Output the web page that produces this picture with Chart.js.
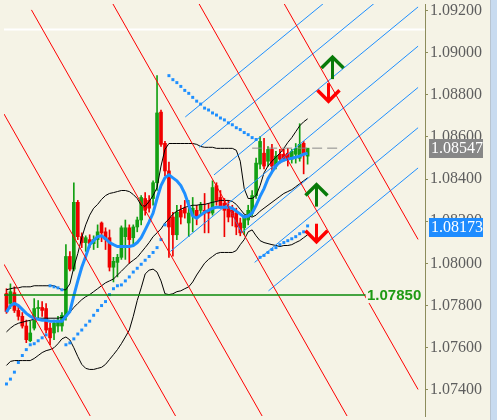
<!DOCTYPE html>
<html><head><meta charset="utf-8">
<script src="https://cdn.jsdelivr.net/npm/chart.js@4/dist/chart.umd.min.js"></script>
<style>html,body{margin:0;padding:0;background:#f5f3e6;}#wrap{width:497px;height:420px;}</style>
</head><body><div id="wrap"><canvas id="c" width="497" height="420"></canvas></div>
<script>
// ---- data ----
const open  = [1.07857,1.07810,1.07861,1.07777,1.07749,1.07703,1.07633,1.07693,1.07786,1.07791,1.07786,1.07693,1.07670,1.07703,1.07703,1.07749,1.08033,1.07973,1.08290,1.08127,1.08099,1.08113,1.08094,1.08113,1.08192,1.08150,1.08122,1.07982,1.08005,1.08029,1.08127,1.08169,1.08122,1.08173,1.08206,1.08308,1.08299,1.08308,1.08383,1.08718,1.08570,1.08439,1.08220,1.08136,1.08252,1.08262,1.08192,1.08229,1.08252,1.08252,1.08252,1.08252,1.08239,1.08369,1.08313,1.08285,1.08266,1.08252,1.08239,1.08192,1.08169,1.08206,1.08239,1.08322,1.08471,1.08523,1.08485,1.08541,1.08462,1.08518,1.08518,1.08523,1.08495,1.08518,1.08499,1.08570,1.08509];
const high  = [1.07880,1.07903,1.07889,1.07796,1.07767,1.07731,1.07726,1.07833,1.07824,1.07819,1.07810,1.07717,1.07731,1.07749,1.07767,1.08089,1.08056,1.08383,1.08299,1.08145,1.08131,1.08136,1.08131,1.08183,1.08197,1.08169,1.08159,1.08029,1.08043,1.08178,1.08206,1.08183,1.08183,1.08220,1.08322,1.08336,1.08322,1.08392,1.08891,1.08728,1.08579,1.08481,1.08243,1.08276,1.08276,1.08299,1.08299,1.08313,1.08276,1.08290,1.08332,1.08285,1.08392,1.08383,1.08346,1.08308,1.08299,1.08276,1.08262,1.08215,1.08229,1.08276,1.08346,1.08500,1.08602,1.08593,1.08555,1.08565,1.08532,1.08541,1.08541,1.08546,1.08541,1.08569,1.08663,1.08579,1.08541];
const low   = [1.07763,1.07786,1.07767,1.07731,1.07693,1.07624,1.07628,1.07684,1.07740,1.07749,1.07670,1.07614,1.07638,1.07675,1.07679,1.07731,1.07964,1.07964,1.08113,1.08075,1.08057,1.08075,1.08066,1.08075,1.08103,1.08066,1.07964,1.07912,1.07936,1.08019,1.08019,1.08001,1.08089,1.08150,1.08183,1.08229,1.08243,1.08276,1.08346,1.08555,1.08416,1.08029,1.08034,1.08113,1.08187,1.08215,1.08127,1.08150,1.08183,1.08229,1.08145,1.08145,1.08229,1.08276,1.08262,1.08127,1.08197,1.08178,1.08136,1.08131,1.08136,1.08183,1.08225,1.08308,1.08448,1.08448,1.08462,1.08439,1.08448,1.08476,1.08485,1.08462,1.08476,1.08476,1.08485,1.08425,1.08471];
const close = [1.07772,1.07866,1.07777,1.07749,1.07703,1.07638,1.07670,1.07786,1.07791,1.07777,1.07684,1.07647,1.07717,1.07731,1.07754,1.08033,1.07973,1.08290,1.08127,1.08099,1.08122,1.08094,1.08113,1.08150,1.08145,1.08113,1.07982,1.08010,1.08029,1.08169,1.08169,1.08113,1.08173,1.08206,1.08313,1.08252,1.08262,1.08383,1.08714,1.08565,1.08439,1.08173,1.08136,1.08243,1.08220,1.08239,1.08239,1.08262,1.08215,1.08276,1.08239,1.08239,1.08360,1.08299,1.08266,1.08252,1.08220,1.08220,1.08173,1.08145,1.08220,1.08252,1.08322,1.08476,1.08579,1.08462,1.08541,1.08462,1.08509,1.08495,1.08495,1.08495,1.08532,1.08546,1.08565,1.08518,1.08547];
const bbUpper = [1.07875,1.07880,1.07884,1.07884,1.07889,1.07889,1.07889,1.07894,1.07894,1.07894,1.07894,1.07894,1.07894,1.07884,1.07875,1.07875,1.07903,1.07982,1.08047,1.08122,1.08183,1.08229,1.08262,1.08280,1.08304,1.08322,1.08332,1.08336,1.08341,1.08346,1.08346,1.08341,1.08327,1.08308,1.08276,1.08271,1.08294,1.08322,1.08360,1.08462,1.08541,1.08569,1.08569,1.08569,1.08569,1.08569,1.08569,1.08569,1.08565,1.08555,1.08551,1.08551,1.08551,1.08546,1.08546,1.08546,1.08546,1.08546,1.08537,1.08485,1.08355,1.08308,1.08308,1.08322,1.08369,1.08430,1.08462,1.08485,1.08504,1.08523,1.08546,1.08574,1.08597,1.08625,1.08653,1.08672,1.08686];
const bbMiddle = [1.07675,1.07693,1.07707,1.07716,1.07721,1.07726,1.07730,1.07735,1.07740,1.07740,1.07740,1.07740,1.07740,1.07740,1.07744,1.07749,1.07768,1.07791,1.07810,1.07828,1.07842,1.07852,1.07866,1.07880,1.07894,1.07908,1.07917,1.07926,1.07945,1.07963,1.07982,1.08001,1.08015,1.08029,1.08052,1.08075,1.08099,1.08127,1.08145,1.08164,1.08192,1.08211,1.08234,1.08248,1.08257,1.08266,1.08271,1.08276,1.08276,1.08280,1.08280,1.08285,1.08290,1.08294,1.08299,1.08299,1.08299,1.08294,1.08280,1.08257,1.08234,1.08225,1.08220,1.08229,1.08248,1.08262,1.08276,1.08290,1.08304,1.08318,1.08332,1.08341,1.08350,1.08364,1.08378,1.08392,1.08406];
const bbLower = [1.07516,1.07535,1.07539,1.07539,1.07539,1.07539,1.07539,1.07549,1.07563,1.07577,1.07586,1.07591,1.07600,1.07619,1.07642,1.07651,1.07637,1.07600,1.07558,1.07521,1.07502,1.07497,1.07497,1.07502,1.07507,1.07521,1.07544,1.07567,1.07591,1.07619,1.07651,1.07684,1.07749,1.07824,1.07884,1.07950,1.07968,1.07973,1.07959,1.07917,1.07856,1.07852,1.07856,1.07866,1.07870,1.07880,1.07889,1.07912,1.07945,1.07973,1.08001,1.08019,1.08033,1.08047,1.08052,1.08052,1.08052,1.08052,1.08061,1.08089,1.08113,1.08150,1.08159,1.08131,1.08108,1.08099,1.08094,1.08089,1.08085,1.08080,1.08085,1.08085,1.08089,1.08099,1.08108,1.08122,1.08136];
const maLine = [1.07768,1.07800,1.07810,1.07800,1.07782,1.07763,1.07749,1.07740,1.07735,1.07730,1.07730,1.07726,1.07726,1.07726,1.07726,1.07749,1.07772,1.07847,1.07917,1.07982,1.08033,1.08089,1.08108,1.08127,1.08131,1.08117,1.08099,1.08089,1.08080,1.08080,1.08080,1.08080,1.08085,1.08099,1.08122,1.08159,1.08197,1.08239,1.08308,1.08369,1.08406,1.08420,1.08406,1.08392,1.08369,1.08332,1.08276,1.08225,1.08215,1.08229,1.08243,1.08252,1.08262,1.08266,1.08266,1.08266,1.08266,1.08262,1.08248,1.08234,1.08220,1.08225,1.08239,1.08276,1.08318,1.08355,1.08402,1.08434,1.08462,1.08481,1.08490,1.08495,1.08499,1.08504,1.08509,1.08518,1.08523];
const sar = [1.07428,1.07451,1.07484,1.07530,1.07563,1.07591,1.07614,1.07619,1.07633,1.07647,1.07661,1.07894,1.07889,1.07884,1.07875,1.07614,1.07623,1.07642,1.07665,1.07684,1.07707,1.07726,1.07754,1.07777,1.07800,1.07819,1.07852,1.07880,1.07894,1.07898,1.07917,1.07936,1.07959,1.07977,1.07996,1.08015,1.08033,1.08052,1.08075,1.08113,1.08183,1.08891,1.08872,1.08858,1.08840,1.08821,1.08807,1.08788,1.08770,1.08756,1.08737,1.08728,1.08714,1.08704,1.08690,1.08681,1.08667,1.08658,1.08644,1.08635,1.08621,1.08611,1.08597,1.08588,1.08029,1.08038,1.08052,1.08066,1.08075,1.08089,1.08099,1.08108,1.08117,1.08127,1.08141,1.08150,1.08178];
// channel lines: [xStart, priceStart, xEnd, priceEnd] in bar-index / price units
const redLines = [[-0.625,1.07996,25,1.07148],[-0.625,1.08709,45,1.07199],[6.3,1.09203,66,1.07227],[26.875,1.09231,90,1.07142],[48.625,1.09231,103.875,1.07402],[70.125,1.09231,103.875,1.08114]];
const blueLines = [[45.125,1.08695,84.375,1.09301],[48.625,1.08551,96.875,1.09297],[52.375,1.08420,103.875,1.09217],[41.375,1.08057,103.875,1.09031],[59.375,1.08145,103.875,1.08835],[62.625,1.08005,103.875,1.08644],[66.125,1.07870,103.875,1.08453],[55.875,1.08276,59.375,1.08145]];
const levelPrice = 1.07850, levelEnd = 90.625;
const currentPrice = 1.08547, currentFrom = 62, currentTo = 84.375;
const markPrice = 1.08173;
const whiteLevel = 1.09110;
const arrowX = [82.125, 81.125, 78.125, 78.125];
const arrowY = [1.08979, 1.08770, 1.08374, 1.08103];
const arrowDir = ['up','down','up','down'];
const yTicks = [1.092,1.090,1.088,1.086,1.084,1.082,1.080,1.078,1.076,1.074];
const yMin = 1.07276, yMax = 1.09231;

// ---- build ----
const idx = open.map((_, i) => i);
const upC = '#13a013', dnC = '#f00000';
const cColors = idx.map(i => close[i] >= open[i] ? upC : dnC);
const pts = arr => idx.map(i => ({x: i, y: arr[i]}));
const seg = l => [{x: l[0], y: l[1]}, {x: l[2], y: l[3]}];
const lineDs = (data, color, width, order, extra) => Object.assign({type: 'line', data, borderColor: color, borderWidth: width, pointRadius: 0, tension: 0, order, fill: false}, extra || {});

const overlay = {
  id: 'overlay',
  beforeDraw(chart) {
    const {ctx, width, height} = chart;
    ctx.save();
    ctx.fillStyle = '#f5f3e6'; ctx.fillRect(0, 0, width, height);
    ctx.fillStyle = '#c8dbf0'; ctx.fillRect(490, 0, width - 490, height);
    ctx.fillStyle = '#b8c4d0'; ctx.fillRect(490, 0, 1, height);
    ctx.restore();
  },
  afterDatasetsDraw(chart) {
    const {ctx, scales: {x, y}} = chart;
    ctx.save();
    ctx.lineCap = 'butt'; ctx.lineJoin = 'miter';
    arrowX.forEach((ax, k) => {
      const px = Math.round(x.getPixelForValue(ax)) + 0.5, py = y.getPixelForValue(arrowY[k]);
      const up = arrowDir[k] === 'up';
      const s = up ? 1 : -1;
      ctx.strokeStyle = up ? '#087a08' : '#ff0000';
      ctx.lineWidth = 3.5;
      ctx.beginPath();
      ctx.moveTo(px - 11, py + s * 11); ctx.lineTo(px, py); ctx.lineTo(px + 11, py + s * 11);
      ctx.stroke();
      ctx.lineWidth = 3;
      ctx.beginPath();
      ctx.moveTo(px, py + s * 1); ctx.lineTo(px, py + s * (up ? 22 : 18));
      ctx.stroke();
    });
    ctx.restore();
  },
  afterDraw(chart) {
    const {ctx, scales: {y}} = chart;
    ctx.save();
    // level label
    const ly = y.getPixelForValue(levelPrice);
    ctx.fillStyle = '#f5f3e6'; ctx.fillRect(366, ly - 8, 58, 16);
    ctx.font = 'bold 15px "Liberation Sans"';
    ctx.textBaseline = 'middle'; ctx.textAlign = 'left';
    ctx.fillStyle = '#1f9a14';
    ctx.fillText(levelPrice.toFixed(5), 367, ly + 1);
    // price boxes
    const box = (price, bg) => {
      const py = y.getPixelForValue(price);
      ctx.fillStyle = bg; ctx.fillRect(429, Math.round(py) - 9, 54, 19);
      ctx.fillStyle = '#ffffff'; ctx.font = '16px "Liberation Serif"';
      ctx.fillText(price.toFixed(5), 431, py + 1);
    };
    box(currentPrice, '#878787');
    box(markPrice, '#1e8cff');
    ctx.restore();
  }
};

const datasets = [
  {type: 'bar', data: idx.map(i => ({x: i, y: [low[i], high[i]]})), backgroundColor: cColors, barThickness: 1, grouped: false, order: 9, borderWidth: 0},
  {type: 'bar', data: idx.map(i => ({x: i, y: [open[i], close[i]]})), backgroundColor: cColors, barThickness: 3, grouped: false, minBarLength: 1, order: 8, borderWidth: 0},
  lineDs(pts(bbUpper), '#000000', 1, 7),
  lineDs(pts(bbMiddle), '#000000', 1, 7),
  lineDs(pts(bbLower), '#000000', 1, 7),
  lineDs(pts(maLine), '#1e8fff', 3, 5),
  {type: 'line', data: pts(sar), showLine: false, pointStyle: 'rect', pointRadius: 2.1, pointBackgroundColor: '#1e8fff', pointBorderWidth: 0, order: 4},
  ...redLines.map(l => lineDs(seg(l), '#ff0000', 1, 2)),
  ...blueLines.map(l => lineDs(seg(l), '#1e8fff', 1, 2)),
  lineDs(seg([-0.625, levelPrice, levelEnd, levelPrice]), '#0a8a0a', 1.5, 1),
  lineDs(seg([currentFrom, currentPrice, currentTo, currentPrice]), '#8a8a8a', 1, 3, {borderDash: [10, 5]}),
  lineDs(seg([-0.625, whiteLevel, 106, whiteLevel]), '#ffffff', 2, 20)
];

new Chart(document.getElementById('c'), {
  type: 'bar',
  data: {datasets},
  plugins: [overlay],
  options: {
    responsive: false, animation: false, devicePixelRatio: 1,
    layout: {padding: 0},
    plugins: {legend: {display: false}, tooltip: {enabled: false}},
    scales: {
      x: {type: 'linear', min: -0.625, max: 105.625, offset: false, display: false},
      y: {
        position: 'right', min: yMin, max: yMax, beginAtZero: false,
        afterBuildTicks: s => { s.ticks = yTicks.map(v => ({value: v})); },
        afterFit: s => { s.width = 72; s.paddingTop = 0; s.paddingBottom = 0; },
        ticks: {callback: v => Number(v).toFixed(5), font: {family: 'Liberation Serif', size: 16}, color: '#5e5e5e', padding: 2, autoSkip: false},
        grid: {drawOnChartArea: false, tickLength: 3, tickColor: '#8c8c5c'},
        border: {color: '#8c8c5c', width: 1}
      }
    }
  }
});
</script></body></html>
